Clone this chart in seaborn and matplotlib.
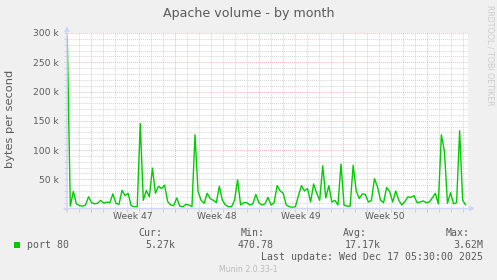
import matplotlib
matplotlib.use("Agg")
import matplotlib.pyplot as plt
import matplotlib.dates as mdates
import matplotlib.transforms as mtransforms
from matplotlib.ticker import MultipleLocator, FuncFormatter
from matplotlib.patches import Rectangle
import seaborn as sns
import pandas as pd

# ---------------- data ----------------
title = "Apache volume - by month"
y_label = "bytes per second"
series_name = "port 80"
series_start = "2025-11-14 00:30"
series_step = "365min"
values_k = [295, 4, 29, 8, 5, 4, 6, 20, 10, 8,
            9, 14, 9, 11, 10, 25, 9, 7, 31, 22,
            26, 5, 3, 3, 145, 14, 31, 20, 69, 26,
            38, 34, 40, 12, 6, 5, 18, 4, 3, 7,
            6, 3, 126, 29, 14, 9, 26, 17, 14, 10,
            38, 14, 6, 3, 3, 14, 49, 6, 10, 10,
            6, 8, 24, 10, 6, 8, 19, 6, 10, 39,
            30, 26, 6, 3, 2, 3, 22, 39, 30, 34,
            11, 42, 26, 14, 73, 18, 39, 11, 14, 6,
            76, 6, 4, 4, 74, 30, 17, 25, 24, 11,
            14, 51, 37, 14, 10, 36, 29, 11, 30, 14,
            6, 12, 20, 19, 22, 10, 11, 13, 10, 11,
            18, 26, 8, 126, 98, 9, 27, 8, 10, 133,
            14, 6]
x_start = "2025-11-14 00:00"
x_end = "2025-12-17 10:00"
week_centers = ["2025-11-19 12:00", "2025-11-26 12:00", "2025-12-03 12:00", "2025-12-10 12:00"]
stat_labels = ["Cur:", "Min:", "Avg:", "Max:"]
stat_values = ["5.27k", "470.78", "17.17k", "3.62M"]
last_update = "Last update: Wed Dec 17 05:30:00 2025"
footer = "Munin 2.0.33-1"
side_text = "RRDTOOL / TOBI OETIKER"

df = pd.DataFrame({
    "time": pd.date_range(series_start, periods=len(values_k), freq=series_step),
    "bytes": [v * 1000 for v in values_k],
})

# ---------------- style ----------------
sns.set_style("white")
plt.rcParams["font.family"] = ["DejaVu Sans"]
TXT = "#5a5a5a"
AXIS = "#CFD6F8"
GRID = "#CDCDCD"
MGRID = "#EDB0B0"
GREEN = "#00CC00"

W, H = 497, 280
def fx(x): return x / W
def fy(y): return 1 - y / H

fig = plt.figure(figsize=(W / 100, H / 100), dpi=100, facecolor="#F0F0F0")
top_px, bot_px, left_px, right_px = 33, 208.5, 67, 468
ax = fig.add_axes([fx(left_px), fy(bot_px), (right_px - left_px) / W, (bot_px - top_px) / H])
ax.set_facecolor("white")

sns.lineplot(data=df, x="time", y="bytes", ax=ax, color=GREEN, linewidth=1.0)

ax.set_xlim(pd.Timestamp(x_start), pd.Timestamp(x_end))
ax.set_ylim(0, 300000)
ax.set_xlabel("")
ax.set_ylabel("")

ax.yaxis.set_major_locator(MultipleLocator(50000))
ax.yaxis.set_minor_locator(MultipleLocator(10000))
ax.yaxis.set_major_formatter(FuncFormatter(lambda v, p: f"{int(round(v / 1000))} k" if v > 0 else ""))
ax.xaxis.set_major_locator(mdates.WeekdayLocator(byweekday=mdates.SU))
ax.xaxis.set_minor_locator(mdates.DayLocator())

ax.set_axisbelow(True)
ax.grid(which="minor", color=GRID, linestyle=(0, (1, 1.2)), linewidth=0.65)
ax.grid(which="major", color=MGRID, linestyle=(0, (1, 1.2)), linewidth=0.65)
for s in ax.spines.values():
    s.set_visible(False)

ax.tick_params(axis="y", which="major", direction="out", length=2.2, width=0.7,
               color=GRID, labelsize=6.6, labelcolor=TXT, pad=3.5, left=True)
ax.tick_params(axis="y", which="minor", direction="out", length=2.2, width=0.7,
               color=GRID, left=True)
ax.tick_params(axis="x", which="major", direction="out", length=2.5, width=0.7,
               color=MGRID, labelbottom=False, bottom=True)
ax.tick_params(axis="x", which="minor", direction="out", length=2.0, width=0.7,
               color=GRID, bottom=True)

# week labels
trans = mtransforms.blended_transform_factory(ax.transData, ax.transAxes)
for c in week_centers:
    t = pd.Timestamp(c)
    ax.text(t, -7.8 / (bot_px - top_px), f"Week {t.isocalendar()[1]}", transform=trans,
            ha="center", va="center", fontsize=6.6, color=TXT)

# axis lines with arrows
ax.annotate("", xy=(fx(left_px), fy(26)), xytext=(fx(left_px), fy(211.5)),
            xycoords="figure fraction", textcoords="figure fraction",
            arrowprops=dict(arrowstyle="-|>", color=AXIS, lw=1.0, mutation_scale=7,
                            shrinkA=0, shrinkB=0))
ax.annotate("", xy=(fx(475), fy(bot_px)), xytext=(fx(64), fy(bot_px)),
            xycoords="figure fraction", textcoords="figure fraction",
            arrowprops=dict(arrowstyle="-|>", color=AXIS, lw=1.0, mutation_scale=7,
                            shrinkA=0, shrinkB=0))

# titles
fig.text(fx(248.5), fy(13.5), title, ha="center", va="center", fontsize=9.1, color=TXT)
fig.text(fx(10), fy(119), y_label, ha="center", va="center", rotation=90,
         fontsize=8.2, color=TXT)
fig.text(fx(490), fy(5), side_text, ha="center", va="top", rotation=270,
         fontsize=5.7, color="#CCCCCC")

# legend
mono = "DejaVu Sans Mono"
ms = 7.1
fig.add_artist(Rectangle((fx(14), fy(247.7)), 6 / W, 6 / H, transform=fig.transFigure,
                         facecolor=GREEN, edgecolor="none"))
fig.text(fx(26.7), fy(245.5), series_name, ha="left", va="center", family=mono,
         fontsize=ms, color=TXT)
label_right = [162.3, 265, 366.7, 469.3]
value_right = [175.7, 273.3, 381, 483.3]
for lab, xr in zip(stat_labels, label_right):
    fig.text(fx(xr), fy(233.2), lab, ha="right", va="center", family=mono,
             fontsize=ms, color=TXT)
for val, xr in zip(stat_values, value_right):
    fig.text(fx(xr), fy(245.5), val, ha="right", va="center", family=mono,
             fontsize=ms, color=TXT)
fig.text(fx(483.3), fy(257.5), last_update, ha="right", va="center", family=mono,
         fontsize=ms, color=TXT)
fig.text(fx(248.5), fy(269.3), footer, ha="center", va="center", fontsize=5.6,
         color="#BBBBBB")

fig.savefig("out.png", dpi=100, facecolor=fig.get_facecolor())
